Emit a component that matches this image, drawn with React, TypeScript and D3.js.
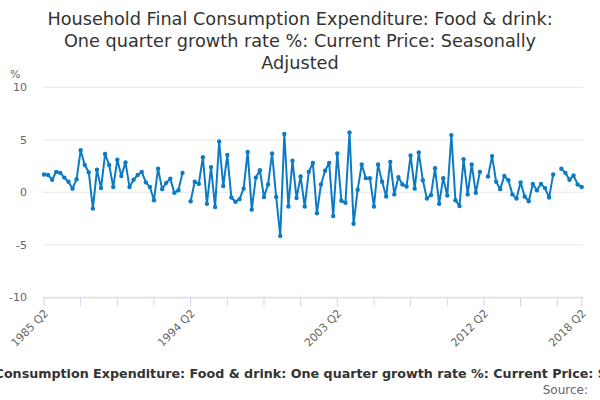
import React from "react";
import * as d3 from "d3";

const titleLines = [
  "Household Final Consumption Expenditure: Food & drink:",
  "One quarter growth rate %: Current Price: Seasonally",
  "Adjusted",
];
const fullTitle =
  "Household Final Consumption Expenditure: Food & drink: One quarter growth rate %: Current Price: Seasonally Adjusted";

const startYear = 1985;
const startQuarter = 2;
const values: (number | null)[] = [
  1.7, 1.65, 1.2, 1.95, 1.85, 1.4, 1.0, 0.35, 1.25, 4.0,
  2.6, 1.9, -1.55, 2.15, 0.4, 3.65, 2.6, 0.5, 3.1, 1.55,
  2.85, 0.5, 1.2, 1.65, 1.95, 0.95, 0.5, -0.75, 2.25, 0.3,
  0.9, 1.3, -0.05, 0.2, 1.85, null, -0.85, 1.0, 0.8, 3.35,
  -1.1, 2.4, -1.4, 4.85, 0.6, 3.55, -0.5, -0.9, -0.65, 0.35,
  3.85, -1.65, 1.4, 2.1, -0.45, 0.75, 3.7, -0.45, -4.15, 5.55,
  -1.35, 3.0, -0.55, 1.5, -1.35, 1.95, 2.8, -2.0, 0.75, 2.05,
  2.8, -2.25, 3.7, -0.8, -1.0, 5.7, -3.0, 0.25, 2.65, 1.35,
  1.35, -1.35, 2.65, 1.0, -0.4, 2.9, -0.2, 1.45, 0.75, 0.55,
  3.5, 0.35, 3.8, 1.15, -0.6, -0.25, 2.3, -1.1, 1.35, -0.3,
  5.45, -0.75, -1.3, 3.15, -0.2, 2.65, -0.05, 1.95, null, 1.5,
  3.45, 1.0, 0.3, 1.55, 1.15, -0.2, -0.6, 0.95, -0.4, -0.85,
  0.8, 0.2, 0.8, 0.4, -0.5, 1.7, null, 2.25, 1.85, 1.2,
  1.6, 0.75, 0.5,
];

const categories: string[] = values.map((_, i) => {
  const q0 = startQuarter - 1 + i;
  return `${startYear + Math.floor(q0 / 4)} Q${(q0 % 4) + 1}`;
});

const yTicks = [-10, -5, 0, 5, 10];
const labelledCategories = ["1985 Q2", "1994 Q2", "2003 Q2", "2012 Q2", "2018 Q2"];
const tickInterval = 9;

export default function App() {
  const W = 600;
  const H = 400;
  const left = 44;
  const right = 581.7;
  const top = 87.3;
  const bottom = 297.3;

  const x = d3.scaleLinear().domain([0, values.length - 1]).range([left, right]);
  const y = d3.scaleLinear().domain([-10, 10]).range([bottom, top]);

  const line = d3
    .line<number | null>()
    .defined((d) => d != null)
    .x((_, i) => x(i))
    .y((d) => y(d as number));

  const tickIdx: number[] = [];
  for (let i = 0; i < values.length; i += tickInterval) tickIdx.push(i);
  if (tickIdx[tickIdx.length - 1] !== values.length - 1) tickIdx.push(values.length - 1);

  const labelIdx = labelledCategories.map((c) => categories.indexOf(c));
  const font = "'DejaVu Sans', sans-serif";

  return (
    <svg
      width={W}
      height={H}
      style={{ position: "absolute", left: 0, top: 0, background: "#fff" }}
      fontFamily={font}
    >
      <rect width={W} height={H} fill="#fff" />
      {titleLines.map((t, i) => (
        <text key={i} x={300} y={25 + i * 22} textAnchor="middle" fontSize={17.7} fill="#333333">
          {t}
        </text>
      ))}
      {yTicks.map((t) => (
        <line key={t} x1={43} x2={583} y1={y(t)} y2={y(t)} stroke="#e6e6e6" strokeWidth={1} />
      ))}
      {yTicks.map((t) => (
        <text key={"l" + t} x={27} y={y(t) + 4} textAnchor="end" fontSize={11} fill="#666666">
          {t}
        </text>
      ))}
      <text x={10} y={78} fontSize={11} fill="#666666">%</text>
      <line x1={43} x2={583.5} y1={bottom + 0.5} y2={bottom + 0.5} stroke="#ccd6eb" strokeWidth={1} />
      {tickIdx.map((i) => (
        <line key={"t" + i} x1={x(i)} x2={x(i)} y1={bottom} y2={bottom + 9} stroke="#ccd6eb" strokeWidth={1} />
      ))}
      {labelIdx.map((i) => (
        <text
          key={"x" + i}
          x={x(i) + 5}
          y={314}
          textAnchor="end"
          fontSize={11}
          fill="#666666"
          transform={`rotate(-45 ${x(i) + 5} 314)`}
        >
          {categories[i]}
        </text>
      ))}
      <path d={line(values) || ""} fill="none" stroke="#0c7bc4" strokeWidth={2} strokeLinejoin="round" />
      {values.map((v, i) =>
        v == null ? null : <circle key={"c" + i} cx={x(i)} cy={y(v)} r={2.2} fill="#0c7bc4" />
      )}
      <text x={309} y={378} textAnchor="middle" fontSize={12.7} fontWeight="bold" fill="#333333">
        {fullTitle}
      </text>
      <text x={588} y={394} textAnchor="end" fontSize={12} fill="#666666">Source:</text>
    </svg>
  );
}
